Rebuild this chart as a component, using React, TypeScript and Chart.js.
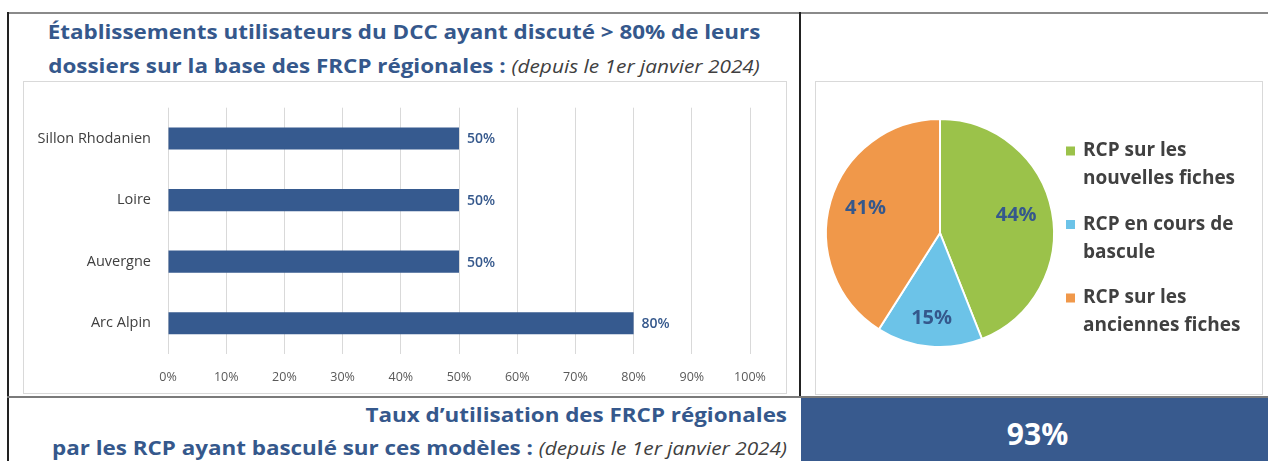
import React, { useEffect, useRef } from "react";
import { Chart, registerables } from "chart.js";

Chart.register(...registerables);

// ---- data ----
const regions = ["Sillon Rhodanien", "Loire", "Auvergne", "Arc Alpin"];
const regionValues = [50, 50, 50, 80];
const xAxisMin = 0;
const xAxisMax = 100;
const xAxisStep = 10;

const pieLabels = [
  ["RCP sur les", "nouvelles fiches"],
  ["RCP en cours de", "bascule"],
  ["RCP sur les", "anciennes fiches"],
];
const pieValues = [44, 15, 41];
const pieColors = ["#9BC24A", "#6CC3E8", "#F0984A"];

const overallRate = "93%";

const FONT = "'Open Sans', Lato, sans-serif";
const BLUE = "#35588C";
const DARK = "#404040";

function BarChart() {
  const ref = useRef<HTMLCanvasElement>(null);
  useEffect(() => {
    const labelPlugin = {
      id: "barLabels",
      afterDatasetsDraw(chart: any) {
        const ctx = chart.ctx;
        const meta = chart.getDatasetMeta(0);
        ctx.save();
        ctx.font = `600 14px ${FONT}`;
        ctx.fillStyle = BLUE;
        ctx.textAlign = "left";
        ctx.textBaseline = "middle";
        meta.data.forEach((bar: any, i: number) => {
          ctx.fillText(chart.data.datasets[0].data[i] + "%", bar.x + 8, bar.y + 1);
        });
        ctx.restore();
      },
    };
    const chart = new Chart(ref.current!, {
      type: "bar",
      data: {
        labels: regions,
        datasets: [
          {
            data: regionValues,
            backgroundColor: "#365A8F",
            borderWidth: 0,
            categoryPercentage: 1,
            barPercentage: 0.36,
          },
        ],
      },
      options: {
        indexAxis: "y",
        animation: false,
        responsive: false,
        maintainAspectRatio: false,
        layout: { padding: { left: 0, right: 36, top: 15, bottom: 0 } },
        plugins: { legend: { display: false }, tooltip: { enabled: false } },
        scales: {
          x: {
            min: xAxisMin,
            max: xAxisMax,
            ticks: {
              stepSize: xAxisStep,
              callback: (v: any) => v + "%",
              color: "#595959",
              font: { family: FONT, size: 12.5 },
              padding: 16,
              maxRotation: 0,
            },
            grid: { color: "#D9D9D9", drawTicks: false, lineWidth: 1 },
            border: { display: false },
            afterFit: (s: any) => {
              s.height = 39;
            },
          },
          y: {
            ticks: {
              color: DARK,
              font: { family: FONT, size: 14.5 },
              padding: 17,
            },
            grid: { display: false, drawTicks: false },
            border: { display: false },
            afterFit: (s: any) => {
              s.width = 144;
            },
          },
        },
      },
      plugins: [labelPlugin],
    } as any);
    return () => chart.destroy();
  }, []);
  return <canvas ref={ref} width={762} height={311} style={{ display: "block" }} />;
}

function PieChart() {
  const ref = useRef<HTMLCanvasElement>(null);
  useEffect(() => {
    const piePlugin = {
      id: "pieExtras",
      afterDatasetsDraw(chart: any) {
        const ctx = chart.ctx;
        const meta = chart.getDatasetMeta(0);
        const ds = chart.data.datasets[0];
        ctx.save();
        ctx.font = `bold 20px ${FONT}`;
        ctx.fillStyle = BLUE;
        ctx.textAlign = "center";
        ctx.textBaseline = "middle";
        meta.data.forEach((arc: any, i: number) => {
          const mid = (arc.startAngle + arc.endAngle) / 2;
          const span = arc.endAngle - arc.startAngle;
          const r = arc.outerRadius * (span < 1.2 ? 0.78 : 0.68);
          ctx.fillText(ds.data[i] + "%", arc.x + Math.cos(mid) * r, arc.y + Math.sin(mid) * r - 3);
        });
        // legend
        const area = chart.chartArea;
        const sqX = area.right + 11;
        const txX = area.right + 28;
        const lineH = 28;
        const itemGap = 73.5;
        ctx.font = `bold 19px ${FONT}`;
        ctx.textAlign = "left";
        (chart.data.labels as string[][]).forEach((lines, i) => {
          const y0 = area.top + 33 + i * itemGap;
          ctx.fillStyle = ds.backgroundColor[i];
          ctx.fillRect(sqX, y0 - 4.5, 9, 9);
          ctx.fillStyle = DARK;
          lines.forEach((ln, j) => ctx.fillText(ln, txX, y0 + j * lineH));
        });
        ctx.restore();
      },
    };
    const chart = new Chart(ref.current!, {
      type: "pie",
      data: {
        labels: pieLabels,
        datasets: [
          {
            data: pieValues,
            backgroundColor: pieColors,
            borderColor: "#FFFFFF",
            borderWidth: 2,
          },
        ],
      },
      options: {
        animation: false,
        responsive: false,
        maintainAspectRatio: false,
        layout: { padding: { left: 9, top: 36, right: 207, bottom: 46 } },
        plugins: { legend: { display: false }, tooltip: { enabled: false } },
      },
      plugins: [piePlugin],
    } as any);
    return () => chart.destroy();
  }, []);
  return <canvas ref={ref} width={446} height={312} style={{ display: "block" }} />;
}

export default function App() {
  const abs = (l: number, t: number, w: number, h: number, extra: any = {}) => ({
    position: "absolute" as const,
    left: l,
    top: t,
    width: w,
    height: h,
    ...extra,
  });
  const italic = { fontStyle: "italic", fontWeight: 400, fontSize: 18.6, color: DARK };
  return (
    <div
      style={{
        position: "absolute",
        left: 0,
        top: 0,
        width: 1268,
        height: 461,
        overflow: "hidden",
        background: "#fff",
        fontFamily: FONT,
      }}
    >
      {/* borders */}
      <div style={abs(7, 12, 1261, 2, { background: "#8A8A8A" })} />
      <div style={abs(7, 12, 2, 449, { background: "#222" })} />
      <div style={abs(799, 12, 2, 386, { background: "#222" })} />
      <div style={abs(7, 396, 1261, 2, { background: "#7A7A7A" })} />

      {/* title */}
      <div
        style={abs(9, 15, 790, 66, {
          textAlign: "center",
          color: BLUE,
          fontWeight: 700,
          fontSize: 20,
          lineHeight: "34px",
          whiteSpace: "nowrap",
        })}
      >
        <div style={{ transform: "scaleX(1.12)", transformOrigin: "center" }}>
          Établissements utilisateurs du DCC ayant discuté &gt; 80% de leurs
        </div>
        <div style={{ transform: "scaleX(1.12)", transformOrigin: "center" }}>
          dossiers sur la base des FRCP régionales : <span style={italic}>(depuis le 1er janvier 2024)</span>
        </div>
      </div>

      {/* bar chart box */}
      <div style={abs(23, 81, 764, 313, { border: "1px solid #D9D9D9", boxSizing: "border-box" })} />
      <div style={abs(24, 82, 762, 311)}>
        <BarChart />
      </div>

      {/* pie box */}
      <div style={abs(815, 81, 448, 314, { border: "1px solid #D9D9D9", boxSizing: "border-box" })} />
      <div style={abs(816, 82, 446, 312)}>
        <PieChart />
      </div>

      {/* bottom text */}
      <div
        style={abs(9, 398, 778, 70, {
          textAlign: "right",
          color: BLUE,
          fontWeight: 700,
          fontSize: 20,
          lineHeight: "33px",
          whiteSpace: "nowrap",
        })}
      >
        <div style={{ transform: "scaleX(1.12)", transformOrigin: "right" }}>
          Taux d’utilisation des FRCP régionales
        </div>
        <div style={{ transform: "scaleX(1.12)", transformOrigin: "right" }}>
          par les RCP ayant basculé sur ces modèles : <span style={italic}>(depuis le 1er janvier 2024)</span>
        </div>
      </div>

      {/* blue box */}
      <div
        style={abs(801, 398, 467, 63, {
          background: "#385A8E",
          color: "#fff",
          fontWeight: 700,
          fontSize: 30,
          display: "flex",
          alignItems: "center",
          justifyContent: "center",
          boxSizing: "border-box",
        })}
      >
        <span style={{ marginLeft: 6, marginTop: 8 }}>{overallRate}</span>
      </div>
    </div>
  );
}
